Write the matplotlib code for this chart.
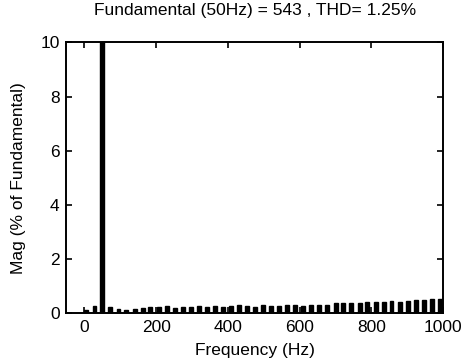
import matplotlib
matplotlib.use("Agg")
import matplotlib.pyplot as plt

# FFT bar spectrum
freqs = [5, 28, 50, 72, 95, 117, 140, 162, 184, 207, 229, 252, 274, 296,
         319, 341, 364, 386, 408, 431, 453, 476, 498, 520, 543, 565, 588,
         610, 632, 655, 677, 700, 722, 744, 767, 789, 812, 834, 856, 879,
         901, 924, 946, 968, 991]
mags = [0.10, 0.25, 100.0, 0.20, 0.15, 0.12, 0.15, 0.18, 0.20, 0.20,
        0.25, 0.18, 0.20, 0.22, 0.25, 0.20, 0.25, 0.22, 0.25, 0.28,
        0.25, 0.22, 0.28, 0.25, 0.25, 0.30, 0.28, 0.25, 0.30, 0.28,
        0.30, 0.35, 0.38, 0.35, 0.38, 0.40, 0.40, 0.42, 0.45, 0.40,
        0.45, 0.48, 0.48, 0.50, 0.50]
xticks = [0, 200, 400, 600, 800, 1000]
yticks = [0, 2, 4, 6, 8, 10]

plt.rcParams["font.family"] = ["Liberation Sans", "DejaVu Sans"]

fig = plt.figure(figsize=(4.65, 3.63), dpi=100)
ax = fig.add_axes([0.143, 0.138, 0.81, 0.745])
ax.bar(freqs, mags, width=11, color="black", edgecolor="black")
ax.set_xlim(-50, 1000)
ax.set_ylim(0, 10)
ax.set_xticks(xticks)
ax.set_yticks(yticks)
ax.tick_params(direction="in", top=True, right=True, labelsize=12.5,
               length=4, width=1.2, pad=5)
for s in ax.spines.values():
    s.set_linewidth(1.4)
ax.set_title("Fundamental (50Hz) = 543 , THD= 1.25%", fontsize=12.5, pad=20)
ax.set_xlabel("Frequency (Hz)", fontsize=12.5, labelpad=6)
ax.set_ylabel("Mag (% of Fundamental)", fontsize=12.5, labelpad=10)

fig.savefig("out.png", dpi=100)
plt.close()
